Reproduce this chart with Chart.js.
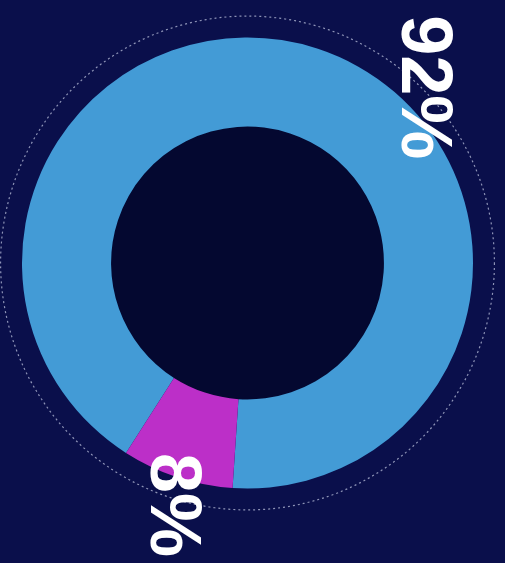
<!DOCTYPE html>
<html>
<head>
<meta charset="utf-8">
<script src="https://cdn.jsdelivr.net/npm/chart.js@4"></script>
<style>
	html, body { margin: 0; padding: 0; background: #0a0f4b; }
	#wrap { position: relative; width: 505px; height: 563px; }
</style>
</head>
<body>
<div id="wrap"><canvas id="shareChart" width="505" height="563"></canvas></div>
<script>
const categories = ['Majority', 'Minority'];
const shareValues = [92, 8];
const shareLabels = ['92%', '8%'];
const sliceColors = ['#439bd6', '#bc2fc8'];

// where each percent label sits, angle in degrees (canvas) and radius factor
const labelSpots = [
	{ angle: -44.6, r: 1.11 },
	{ angle: 106.7, r: 1.12 }
];

const ringDecor = {
	id: 'ringDecor',
	beforeDatasetsDraw(chart) {
		const arc = chart.getDatasetMeta(0).data[0];
		if (!arc) return;
		const { x, y, innerRadius, outerRadius } = arc.getProps(['x', 'y', 'innerRadius', 'outerRadius'], true);
		const ctx = chart.ctx;
		ctx.save();
		// dotted outer ring
		ctx.beginPath();
		ctx.setLineDash([2, 3]);
		ctx.lineWidth = 1.2;
		ctx.strokeStyle = 'rgba(200, 205, 230, 0.7)';
		ctx.arc(x, y, outerRadius * 1.095, 0, Math.PI * 2);
		ctx.stroke();
		// dark hole
		ctx.setLineDash([]);
		ctx.beginPath();
		ctx.fillStyle = '#040830';
		ctx.arc(x, y, innerRadius + 1, 0, Math.PI * 2);
		ctx.fill();
		ctx.restore();
	},
	afterDraw(chart) {
		const meta = chart.getDatasetMeta(0);
		const ctx = chart.ctx;
		meta.data.forEach((arc, i) => {
			const { x, y, outerRadius } = arc.getProps(['x', 'y', 'outerRadius'], true);
			const spot = labelSpots[i];
			const a = spot.angle * Math.PI / 180;
			const lx = x + Math.cos(a) * outerRadius * spot.r;
			const ly = y + Math.sin(a) * outerRadius * spot.r;
			ctx.save();
			ctx.translate(lx, ly);
			ctx.rotate(Math.PI / 2);
			ctx.fillStyle = '#ffffff';
			ctx.font = 'bold 72px "Liberation Sans", Arial, sans-serif';
			ctx.textAlign = 'center';
			ctx.textBaseline = 'middle';
			ctx.fillText(shareLabels[i], 0, 4);
			ctx.restore();
		});
	}
};

new Chart(document.getElementById('shareChart'), {
	type: 'doughnut',
	data: {
		labels: categories,
		datasets: [{
			data: shareValues,
			backgroundColor: sliceColors,
			borderWidth: 0,
			hoverOffset: 0
		}]
	},
	options: {
		responsive: false,
		animation: false,
		rotation: 212.6,
		cutout: '60.5%',
		layout: {
			padding: { left: 22, right: 32, top: 37, bottom: 74 }
		},
		plugins: {
			legend: { display: false },
			tooltip: { enabled: false }
		}
	},
	plugins: [ringDecor]
});
</script>
</body>
</html>
